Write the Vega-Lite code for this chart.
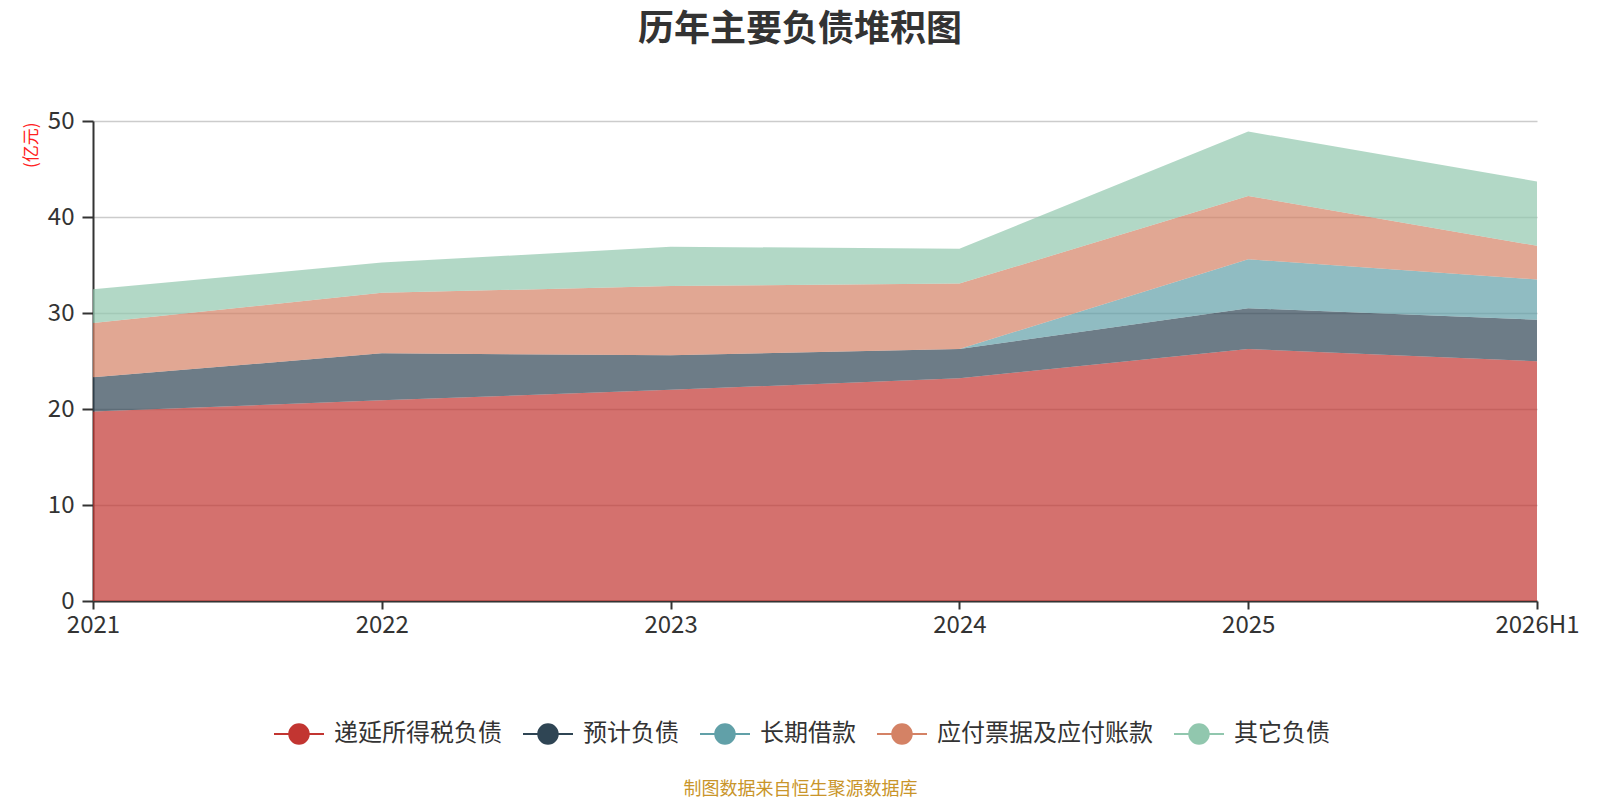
{
  "$schema": "https://vega.github.io/schema/vega-lite/v6.json",
  "autosize": "none",
  "width": 1444,
  "height": 480,
  "padding": {"left": 93, "top": 121, "right": 63, "bottom": 199},
  "background": "white",
  "title": {
    "text": "历年主要负债堆积图",
    "anchor": "middle",
    "dx": -15,
    "offset": 60,
    "font": "Noto Sans CJK SC",
    "fontSize": 36,
    "fontWeight": "bold",
    "color": "#333333"
  },
  "data": {
    "values": [
      {"period": "2021", "item": "递延所得税负债", "k": 0, "value": 19.73},
      {"period": "2022", "item": "递延所得税负债", "k": 0, "value": 20.9},
      {"period": "2023", "item": "递延所得税负债", "k": 0, "value": 22.0},
      {"period": "2024", "item": "递延所得税负债", "k": 0, "value": 23.2},
      {"period": "2025", "item": "递延所得税负债", "k": 0, "value": 26.25},
      {"period": "2026H1", "item": "递延所得税负债", "k": 0, "value": 24.97},
      {"period": "2021", "item": "预计负债", "k": 1, "value": 3.57},
      {"period": "2022", "item": "预计负债", "k": 1, "value": 4.9},
      {"period": "2023", "item": "预计负债", "k": 1, "value": 3.6},
      {"period": "2024", "item": "预计负债", "k": 1, "value": 3.05},
      {"period": "2025", "item": "预计负债", "k": 1, "value": 4.25},
      {"period": "2026H1", "item": "预计负债", "k": 1, "value": 4.33},
      {"period": "2021", "item": "长期借款", "k": 2, "value": 0},
      {"period": "2022", "item": "长期借款", "k": 2, "value": 0},
      {"period": "2023", "item": "长期借款", "k": 2, "value": 0},
      {"period": "2024", "item": "长期借款", "k": 2, "value": 0},
      {"period": "2025", "item": "长期借款", "k": 2, "value": 5.1},
      {"period": "2026H1", "item": "长期借款", "k": 2, "value": 4.2},
      {"period": "2021", "item": "应付票据及应付账款", "k": 3, "value": 5.66},
      {"period": "2022", "item": "应付票据及应付账款", "k": 3, "value": 6.3},
      {"period": "2023", "item": "应付票据及应付账款", "k": 3, "value": 7.2},
      {"period": "2024", "item": "应付票据及应付账款", "k": 3, "value": 6.81},
      {"period": "2025", "item": "应付票据及应付账款", "k": 3, "value": 6.6},
      {"period": "2026H1", "item": "应付票据及应付账款", "k": 3, "value": 3.5},
      {"period": "2021", "item": "其它负债", "k": 4, "value": 3.51},
      {"period": "2022", "item": "其它负债", "k": 4, "value": 3.15},
      {"period": "2023", "item": "其它负债", "k": 4, "value": 4.1},
      {"period": "2024", "item": "其它负债", "k": 4, "value": 3.64},
      {"period": "2025", "item": "其它负债", "k": 4, "value": 6.7},
      {"period": "2026H1", "item": "其它负债", "k": 4, "value": 6.7}
    ]
  },
  "mark": {"type": "area", "opacity": 0.7},
  "encoding": {
    "x": {
      "field": "period",
      "type": "ordinal",
      "scale": {"type": "point", "padding": 0, "domain": ["2021", "2022", "2023", "2024", "2025", "2026H1"]},
      "axis": {
        "title": "制图数据来自恒生聚源数据库",
        "titleColor": "#c9952a",
        "titleFont": "Noto Sans CJK SC",
        "titleFontSize": 18,
        "titleFontWeight": "normal",
        "titleX": 707,
        "titleY": 188,
        "titleBaseline": "middle",
        "labelAngle": 0,
        "labelFont": "Noto Sans CJK SC",
        "labelFontSize": 24,
        "labelColor": "#333333",
        "labelPadding": 4,
        "tickSize": 8,
        "tickWidth": 2,
        "tickColor": "#333333",
        "domainColor": "#333333",
        "domainWidth": 2,
        "grid": false
      }
    },
    "y": {
      "field": "value",
      "type": "quantitative",
      "stack": "zero",
      "scale": {"domain": [0, 50]},
      "axis": {
        "title": "(亿元)",
        "titleColor": "#ff2020",
        "titleFont": "Noto Sans CJK SC",
        "titleFontSize": 17,
        "titleFontWeight": "normal",
        "titleAngle": -90,
        "titleAlign": "right",
        "titleBaseline": "middle",
        "titleX": -62,
        "titleY": 1,
        "values": [0, 10, 20, 30, 40, 50],
        "labelFont": "Noto Sans CJK SC",
        "labelFontSize": 24,
        "labelColor": "#333333",
        "labelPadding": 8,
        "tickSize": 11,
        "tickWidth": 2,
        "tickColor": "#333333",
        "domainColor": "#333333",
        "domainWidth": 2,
        "gridColor": "#cccccc",
        "gridWidth": 1.5
      }
    },
    "color": {
      "field": "item",
      "type": "nominal",
      "scale": {
        "domain": ["递延所得税负债", "预计负债", "长期借款", "应付票据及应付账款", "其它负债"],
        "range": ["#c23531", "#2f4554", "#61a0a8", "#d48265", "#91c7ae"]
      },
      "legend": {
        "title": null,
        "orient": "none",
        "direction": "horizontal",
        "legendX": 181,
        "legendY": 588,
        "symbolType": "M-1,-0.04L1,-0.04L1,0.04L-1,0.04Z M0.43,0A0.43,0.43,0,1,1,-0.43,0A0.43,0.43,0,1,1,0.43,0Z",
        "symbolSize": 2500,
        "symbolOpacity": 1,
        "symbolStrokeWidth": 0,
        "labelFont": "Noto Sans CJK SC",
        "labelFontSize": 24,
        "labelColor": "#333333",
        "labelOffset": 10,
        "labelLimit": 400,
        "columnPadding": 21
      }
    },
    "order": {"field": "k", "type": "quantitative", "sort": "ascending"}
  },
  "config": {
    "view": {"stroke": null}
  }
}
